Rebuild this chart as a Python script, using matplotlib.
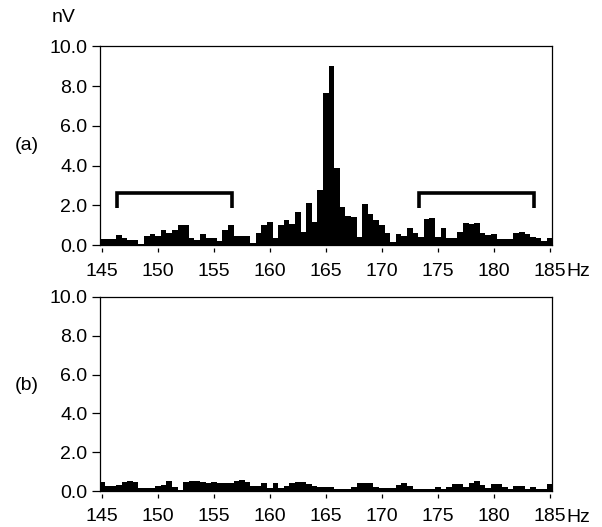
import numpy as np
import matplotlib
matplotlib.use("Agg")
import matplotlib.pyplot as plt

plt.rcParams["font.family"] = ["Liberation Sans", "DejaVu Sans"]

# Spectrum bins, 0.5 Hz apart, 145 .. 185 Hz
freqs = np.arange(145.0, 185.01, 0.5)

# (a) amplitude in nV, with the line at 165 Hz
amp_a = [
    0.30, 0.30, 0.30, 0.50, 0.37, 0.25, 0.25, 0.05, 0.45, 0.54,   # 145.0 - 149.5
    0.47, 0.76, 0.59, 0.76, 1.00, 1.00, 0.34, 0.25, 0.54, 0.37,   # 150.0 - 154.5
    0.34, 0.20, 0.76, 1.00, 0.45, 0.45, 0.45, 0.12, 0.60, 1.00,   # 155.0 - 159.5
    1.14, 0.34, 1.00, 1.26, 1.04, 1.68, 0.67, 2.10, 1.18, 2.77,   # 160.0 - 164.5
    7.65, 9.00, 3.90, 1.93, 1.46, 1.43, 0.42, 2.05, 1.55, 1.26,   # 165.0 - 169.5
    1.00, 0.62, 0.17, 0.54, 0.47, 0.84, 0.59, 0.42, 1.30, 1.38,   # 170.0 - 174.5
    0.42, 0.84, 0.37, 0.37, 0.67, 1.10, 1.05, 1.10, 0.59, 0.50,   # 175.0 - 179.5
    0.54, 0.30, 0.30, 0.30, 0.60, 0.67, 0.55, 0.42, 0.34, 0.20,   # 180.0 - 184.5
    0.35,                                                         # 185.0
]

# (b) amplitude in nV, no line
amp_b = [
    0.48, 0.28, 0.28, 0.31, 0.45, 0.53, 0.45, 0.14, 0.14, 0.14,   # 145.0 - 149.5
    0.28, 0.31, 0.53, 0.19, 0.05, 0.48, 0.53, 0.53, 0.45, 0.41,   # 150.0 - 154.5
    0.45, 0.41, 0.41, 0.41, 0.50, 0.59, 0.45, 0.28, 0.25, 0.43,   # 155.0 - 159.5
    0.14, 0.40, 0.14, 0.28, 0.41, 0.48, 0.48, 0.36, 0.28, 0.22,   # 160.0 - 164.5
    0.20, 0.20, 0.12, 0.08, 0.08, 0.20, 0.43, 0.43, 0.43, 0.20,   # 165.0 - 169.5
    0.17, 0.17, 0.17, 0.30, 0.43, 0.26, 0.12, 0.12, 0.12, 0.12,   # 170.0 - 174.5
    0.20, 0.12, 0.20, 0.38, 0.38, 0.20, 0.40, 0.52, 0.29, 0.17,   # 175.0 - 179.5
    0.38, 0.38, 0.20, 0.12, 0.26, 0.26, 0.12, 0.20, 0.12, 0.12,   # 180.0 - 184.5
    0.35,                                                         # 185.0
]

# noise bands marked on (a)
band_low = (146.3, 156.6)
band_high = (173.3, 183.6)
band_top = 2.62
band_foot = 1.87

x_ticks = [145, 150, 155, 160, 165, 170, 175, 180, 185]
y_ticks = [0, 2, 4, 6, 8, 10]
y_labels = ["0.0", "2.0", "4.0", "6.0", "8.0", "10.0"]

assert len(amp_a) == len(freqs) and len(amp_b) == len(freqs)

W, H = 602, 527
FS = 14


def setup_axes(ax, xpad):
    ax.set_xlim(144.82, 185.18)
    ax.set_ylim(0, 10)
    ax.set_xticks(x_ticks)
    ax.set_xticklabels([str(t) for t in x_ticks])
    ax.set_yticks(y_ticks)
    ax.set_yticklabels(y_labels)
    for s in ax.spines.values():
        s.set_linewidth(0.9)
    # x ticks hang a little below the frame
    ax.spines["bottom"].set_position(("outward", 2.2))
    ax.spines["bottom"].set_visible(False)
    ax.axhline(0, color="black", lw=0.9, clip_on=False, zorder=4)
    ax.tick_params(axis="x", direction="out", length=3.2, width=0.9, pad=xpad,
                   labelsize=FS)
    ax.tick_params(axis="y", direction="out", length=6, width=0.9, pad=3,
                   labelsize=FS)


def draw_band(ax, lo, hi):
    ax.plot([lo, lo, hi, hi], [band_foot, band_top, band_top, band_foot],
            color="black", lw=2.6, solid_joinstyle="miter",
            solid_capstyle="butt", zorder=5)


fig = plt.figure(figsize=(W / 100, H / 100), dpi=100)
left = 100 / W
width = 451.7 / W
ax_a = fig.add_axes([left, 1 - 245 / H, width, (245 - 46.5) / H])
ax_b = fig.add_axes([left, 1 - 491 / H, width, (491 - 297) / H])

for ax, amp, xpad in [(ax_a, amp_a, 7.5), (ax_b, amp_b, 6.5)]:
    ax.bar(freqs, amp, width=0.5, align="center", color="black",
           linewidth=0, zorder=3)
    setup_axes(ax, xpad)

draw_band(ax_a, *band_low)
draw_band(ax_a, *band_high)

# unit and panel labels
fig.text(64 / W, 1 - 18 / H, "nV", ha="center", va="center", fontsize=FS)
fig.text(27 / W, 1 - 145 / H, "(a)", ha="center", va="center", fontsize=FS)
fig.text(27 / W, 1 - 385 / H, "(b)", ha="center", va="center", fontsize=FS)
fig.text(566 / W, 1 - 271 / H, "Hz", ha="left", va="center", fontsize=FS)
fig.text(566 / W, 1 - 517 / H, "Hz", ha="left", va="center", fontsize=FS)

fig.savefig("out.png", dpi=100)
